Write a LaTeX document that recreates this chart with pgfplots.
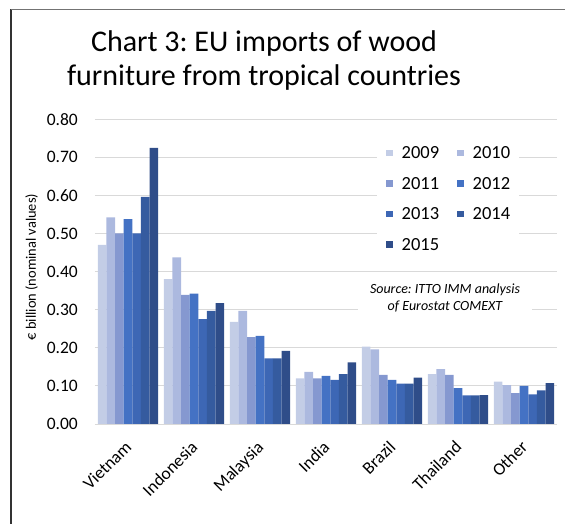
\documentclass[border=0pt]{standalone}
\usepackage{fontspec}
\setmainfont{Carlito}
\usepackage{pgfplots}
\pgfplotsset{compat=1.18}
\usepackage{pgfplotstable}
\frenchspacing
\definecolor{c09}{HTML}{C3CDE6}
\definecolor{c10}{HTML}{ACB9DF}
\definecolor{c11}{HTML}{8598D0}
\definecolor{c12}{HTML}{4472C4}
\definecolor{c13}{HTML}{3D67B5}
\definecolor{c14}{HTML}{355B9F}
\definecolor{c15}{HTML}{2F4D89}
\definecolor{gridgray}{HTML}{D9D9D9}
\pgfplotsset{myleg/.style={legend image code/.code={\fill[##1] (0pt,-3.25pt) rectangle (6.5pt,3.25pt);}}}

\pgfplotstableread{
x y2009 y2010 y2011 y2012 y2013 y2014 y2015
0 0.470 0.542 0.500 0.538 0.500 0.596 0.725
1 0.380 0.437 0.339 0.342 0.275 0.297 0.317
2 0.268 0.297 0.228 0.231 0.172 0.172 0.192
3 0.120 0.137 0.120 0.126 0.116 0.131 0.162
4 0.203 0.196 0.129 0.116 0.106 0.106 0.122
5 0.131 0.144 0.129 0.094 0.075 0.075 0.076
6 0.111 0.102 0.081 0.100 0.078 0.088 0.107
}\datatable

\begin{document}
\begin{tikzpicture}
\useasboundingbox (0pt,0pt) rectangle (565pt,524pt);
\begin{axis}[
  at={(95pt,100pt)}, anchor=south west,
  scale only axis, width=462pt, height=304.8pt,
  xmin=-0.5, xmax=6.5, ymin=0, ymax=0.8,
  enlargelimits=false,
  ybar=0pt, bar width=8.62pt,
  xtick={0,1,2,3,4,5,6},
  xticklabels={Vietnam,Indonesia,Malaysia,India,Brazil,Thailand,Other},
  ytick={0,0.1,0.2,0.3,0.4,0.5,0.6,0.7,0.8},
  /pgf/number format/assume math mode=true,
  yticklabel style={/pgf/number format/fixed, /pgf/number format/fixed zerofill,
    /pgf/number format/precision=2, anchor=east, inner sep=0pt, xshift=-17pt,
    font=\fontsize{17.5}{17.5}\selectfont},
  xticklabel style={xshift=-4pt, rotate=45, anchor=north east, inner sep=0pt,
    font=\fontsize{17.5}{17.5}\selectfont},
  xticklabel shift=15.5pt,
  major tick length=0pt,
  ymajorgrids, grid style={draw=gridgray, line width=0.9pt},
  axis x line*=bottom, axis y line*=left,
  x axis line style={draw=gridgray, line width=0.9pt, -},
  y axis line style={draw=none},
  ylabel={€ billion (nominal values)},
  every axis y label/.style={at={(axis description cs:-0.137,0.515)}, rotate=90, anchor=center,
    font=\fontsize{14.4}{14.4}\selectfont},
  legend columns=2,
  legend cell align=left,
  legend style={at={(axis description cs:0.6104,0.9426)}, anchor=north west,
    draw=none, fill=white, inner xsep=9pt, inner ysep=10pt,
    font=\fontsize{18.5}{18.5}\selectfont, row sep=18.5pt,
    nodes={inner sep=0pt, text height=12pt, text depth=0pt}},
  /tikz/every odd column/.style={column sep=9pt},
  /tikz/every even column/.style={column sep=18pt},
]
\addplot[fill=c09, draw=none, myleg] table[x=x,y=y2009]{\datatable};
\addlegendentry{2009}
\addplot[fill=c10, draw=none, myleg] table[x=x,y=y2010]{\datatable};
\addlegendentry{2010}
\addplot[fill=c11, draw=none, myleg] table[x=x,y=y2011]{\datatable};
\addlegendentry{2011}
\addplot[fill=c12, draw=none, myleg] table[x=x,y=y2012]{\datatable};
\addlegendentry{2012}
\addplot[fill=c13, draw=none, myleg] table[x=x,y=y2013]{\datatable};
\addlegendentry{2013}
\addplot[fill=c14, draw=none, myleg] table[x=x,y=y2014]{\datatable};
\addlegendentry{2014}
\addplot[fill=c15, draw=none, myleg] table[x=x,y=y2015]{\datatable};
\addlegendentry{2015}
\end{axis}
\node[fill=white, minimum width=174pt, minimum height=40pt, align=center,
  font=\fontsize{14}{17.7}\selectfont\itshape] at (445pt,226pt)
  {Source: ITTO IMM analysis\\of Eurostat COMEXT};
\node[anchor=base, font=\fontsize{30}{36}\selectfont, inner sep=0pt] at (264pt,472.3pt)
  {Chart 3: EU imports of wood};
\node[anchor=base, font=\fontsize{30}{36}\selectfont, inner sep=0pt] at (264pt,438pt)
  {furniture from tropical countries};
\draw[draw=black!80, line width=1.5pt] (11pt,0pt) -- (11pt,514.5pt);
\draw[draw=black!55, line width=1pt] (11pt,514.5pt) -- (565pt,514.5pt);
\end{tikzpicture}
\end{document}
